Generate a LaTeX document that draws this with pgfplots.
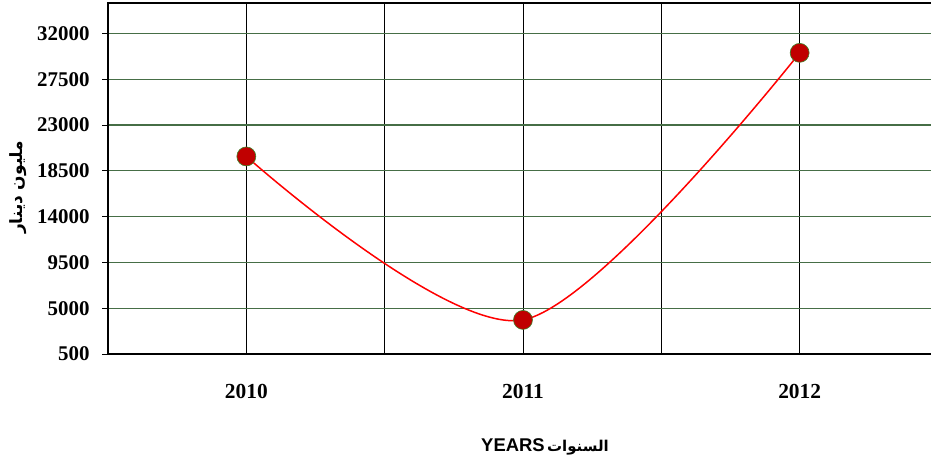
\documentclass[border=0pt]{standalone}
\usepackage{fontspec}
\setmainfont{Liberation Serif}
\setsansfont{Liberation Sans}
\newfontfamily\arabicfont[Script=Arabic]{DejaVu Sans}
\TeXXeTstate=1
\usepackage{pgfplots}
\pgfplotsset{compat=1.18}
\definecolor{gridgreen}{RGB}{70,110,70}
\definecolor{mk}{RGB}{192,0,0}
\definecolor{mkedge}{RGB}{60,130,40}
\begin{document}
\begin{tikzpicture}
\clip (-108bp,-107bp) rectangle (823bp,354bp);
\begin{axis}[
  at={(0,0)}, anchor=south west,
  scale only axis, width=830bp, height=351bp,
  xmin=2009.5, xmax=2012.5, ymin=500, ymax=35000,
  axis line style={black, line width=1.5bp},
  xtick={2010,2011,2012}, xticklabels={2010,2011,2012},
  minor xtick={2010.5,2011.5},
  xmajorgrids, xminorgrids,
  x grid style={black, line width=0.8bp},
  minor x grid style={black, line width=0.8bp},
  ytick={500,5000,9500,14000,18500,23000,27500,32000},
  yticklabels={500,5000,9500,14000,18500,23000,27500,32000},
  ymajorgrids,
  y grid style={gridgreen, line width=1.2bp},
  tick pos=left, tick align=outside,
  x tick style={draw=none},
  minor x tick style={draw=none},
  y tick style={black, line width=1bp},
  major tick length=6bp,
  yticklabel style={font=\fontsize{21}{23}\selectfont\bfseries, xshift=-9bp},
  xticklabel style={font=\fontsize{21.5}{23}\selectfont\bfseries, yshift=-21bp},
  xlabel={{\sffamily\bfseries\fontsize{18.5}{20}\selectfont YEARS}\ {\arabicfont\bfseries\fontsize{15}{17}\selectfont\beginR السنوات\endR}},
  xlabel style={at={(axis description cs:0.5265,-0.265)}, anchor=center},
  ylabel={\arabicfont\bfseries\beginR مليون دينار\endR},
  ylabel style={at={(axis description cs:-0.108,0.475)}, anchor=center, font=\fontsize{17}{19}\selectfont},
]
\addplot[red, line width=1.5bp, smooth, tension=0.5, mark=*, mark size=9.5bp,
  mark options={fill=mk, draw=mkedge, line width=0.6bp}]
  coordinates {(2010,19920) (2011,3850) (2012,30100)};
\end{axis}
\end{tikzpicture}
\end{document}
